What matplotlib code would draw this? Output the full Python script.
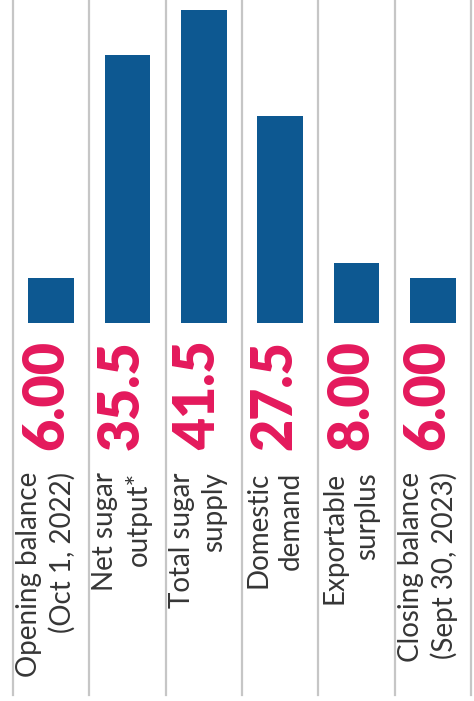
import numpy as np
import matplotlib
matplotlib.use("Agg")
from matplotlib import pyplot as plt

# sugar balance sheet, million tonnes
categories = ["Opening balance\n(Oct 1, 2022)", "Net sugar\noutput*", "Total sugar\nsupply",
              "Domestic\ndemand", "Exportable\nsurplus", "Closing balance\n(Sept 30, 2023)"]
values = [6.00, 35.5, 41.5, 27.5, 8.00, 6.00]
value_labels = ["6.00", "35.5", "41.5", "27.5", "8.00", "6.00"]

BAR_COLOR = "#0d5891"
NUM_COLOR = "#e4195c"
LINE_COLOR = "#c6c6c6"
TEXT_COLOR = "#363636"

W, H = 474, 701
px_x = 76.33   # pixels per column
px_y = 7.54    # pixels per unit
base = 323     # baseline, px from top

fig = plt.figure(figsize=(W / 100, H / 100), dpi=100)
ax = fig.add_axes([0, 0, 1, 1])
n = len(values)
x = np.arange(n)

ax.bar(x, values, width=0.6, color=BAR_COLOR, zorder=2)
ax.set_xlim(-0.5 - 13 / px_x, n - 0.5 + 3 / px_x)
ax.set_ylim(-(H - base) / px_y, base / px_y)

# column separators
for i in range(n + 1):
    ax.axvline(i - 0.5, ymin=(H - 695) / H, ymax=1, color=LINE_COLOR, lw=1.6, zorder=1)

for i in range(n):
    ax.text(i - 0.07, -17 / px_y, value_labels[i], rotation=90, ha="center", va="top",
            fontsize=40, fontweight="heavy", family=["Lato", "DejaVu Sans"], color=NUM_COLOR)
    ax.text(i - 0.5 + 3 / px_x, -149 / px_y, categories[i], rotation=90, ha="left", va="top",
            multialignment="right", fontsize=20, fontweight="normal", linespacing=1.3,
            family=["Lato", "DejaVu Sans"], color=TEXT_COLOR)

for s in ax.spines.values():
    s.set_visible(False)
ax.set_xticks([])
ax.set_yticks([])

fig.savefig("out.png", dpi=100, facecolor="white")
